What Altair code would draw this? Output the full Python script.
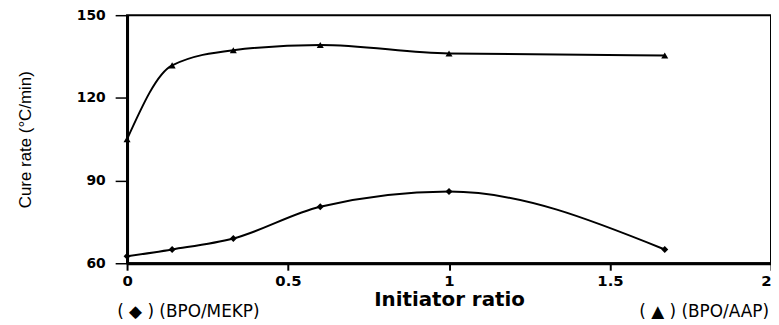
import altair as alt
import pandas as pd

x_ratio = [0, 0.14, 0.33, 0.6, 1.0, 1.67]
mekp = [62.5, 65, 69, 80.5, 86, 65]
aap = [105, 131.8, 137.3, 139.2, 136.1, 135.4]

y_ticks = [60, 90, 120, 150]
x_ticks = [0, 0.5, 1, 1.5, 2]

df = pd.DataFrame({
    "x": x_ratio * 2,
    "y": mekp + aap,
    "s": ["BPO/MEKP"] * len(x_ratio) + ["BPO/AAP"] * len(x_ratio),
})

W, H = 649, 250
FONT = "DejaVu Sans"

xs = alt.Scale(domain=[0, 2], nice=False)
ys = alt.Scale(domain=[60, 150], nice=False)

xax = alt.Axis(values=x_ticks, labelExpr="datum.value == 0 ? '0' : format(datum.value, '~g')",
               labelAlign={"condition": {"test": "datum.value == 2", "value": "right"}, "value": "center"},
               title="Initiator ratio", titleFont=FONT, titleFontSize=20, titleFontWeight="bold",
               titleColor="black", titlePadding=2,
               labelFont=FONT, labelFontSize=15, labelFontWeight="bold", labelColor="black",
               labelPadding=3, tickSize=7, tickColor="black", tickWidth=2,
               domainColor="black", domainWidth=3, grid=False, labelFlush=False)
yax = alt.Axis(values=y_ticks, title="Cure rate (°C/min)", titleFont="Liberation Sans",
               titleFontSize=17, titleFontWeight="normal", titleColor="black", titlePadding=42,
               labelFont=FONT, labelFontSize=14, labelFontWeight="bold", labelColor="black",
               labelPadding=10, tickSize=12, tickColor="black", tickWidth=1.5,
               domainColor="black", domainWidth=3, grid=False)

base = alt.Chart(df)

lines = base.mark_line(color="black", strokeWidth=2, interpolate="monotone").encode(
    x=alt.X("x:Q", scale=xs, axis=xax),
    y=alt.Y("y:Q", scale=ys, axis=yax),
    detail="s:N",
)

pts = base.mark_point(filled=True, color="black", opacity=1, size=50).encode(
    x=alt.X("x:Q", scale=xs),
    y=alt.Y("y:Q", scale=ys),
    shape=alt.Shape("s:N", scale=alt.Scale(domain=["BPO/MEKP", "BPO/AAP"],
                                            range=["diamond", "triangle-up"]), legend=None),
)

leg_df = pd.DataFrame({"t": ["( ◆ ) (BPO/MEKP)"]})
leg1 = alt.Chart(leg_df).mark_text(align="left", baseline="middle", font=FONT, fontSize=17,
                                   color="black").encode(
    x=alt.value(-10), y=alt.value(299), text="t:N")
leg_df2 = pd.DataFrame({"t": ["( ▲ ) (BPO/AAP)"]})
leg2 = alt.Chart(leg_df2).mark_text(align="right", baseline="middle", font=FONT, fontSize=17,
                                    color="black").encode(
    x=alt.value(647), y=alt.value(299), text="t:N")

chart = alt.layer(lines, pts, leg1, leg2).properties(
    width=W, height=H,
    autosize=alt.AutoSizeParams(type="none"),
    padding={"left": 120, "top": 6, "right": 0, "bottom": 61},
).configure_view(stroke="black", strokeWidth=2)

chart.save("out.html", embed_options={"renderer": "svg", "actions": False})
